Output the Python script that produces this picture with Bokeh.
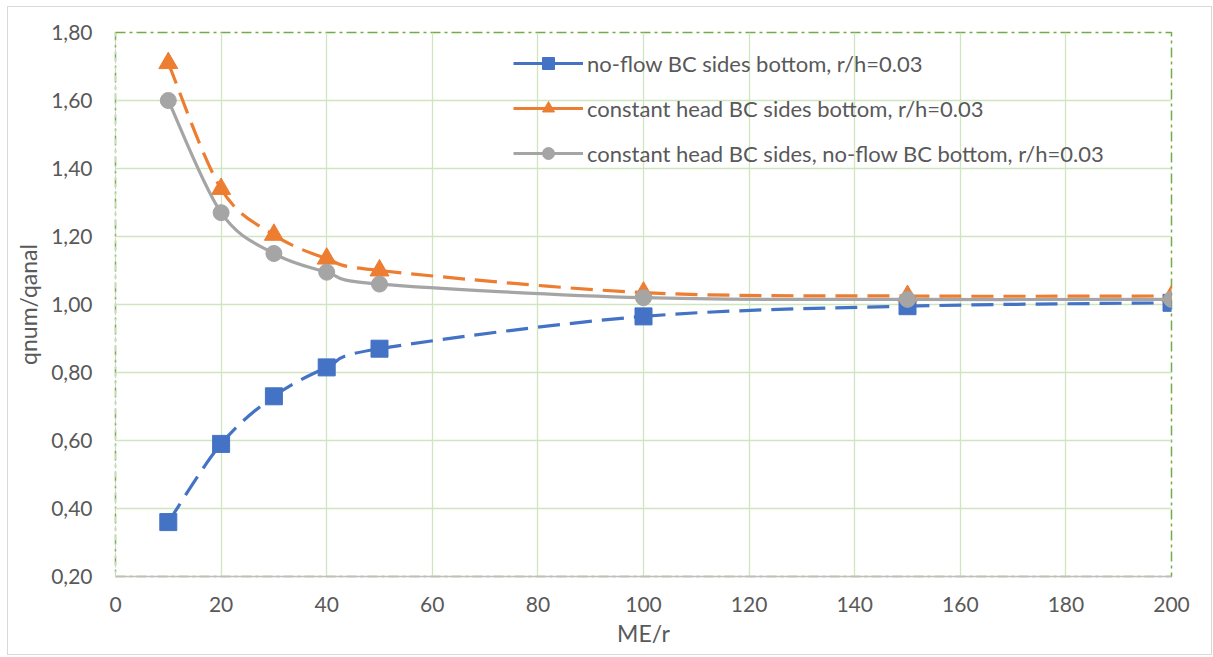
import numpy as np
from bokeh.plotting import figure
from bokeh.models import FixedTicker, CustomJSTickFormatter, Legend, LegendItem, ColumnDataSource
from bokeh.embed import file_html
from bokeh.resources import INLINE

# ---- data ----
me_r = [10, 20, 30, 40, 50, 100, 150, 200]
no_flow = [0.36, 0.59, 0.73, 0.815, 0.87, 0.965, 0.995, 1.005]
const_head = [1.71, 1.34, 1.205, 1.135, 1.10, 1.035, 1.025, 1.025]
const_head_noflow = [1.60, 1.27, 1.15, 1.095, 1.06, 1.02, 1.015, 1.015]
labels = ["no-flow BC sides bottom, r/h=0.03",
          "constant head BC sides bottom, r/h=0.03",
          "constant head BC sides, no-flow BC bottom, r/h=0.03"]
x_ticks = list(range(0, 201, 20))
y_ticks = [0.2, 0.4, 0.6, 0.8, 1.0, 1.2, 1.4, 1.6, 1.8]

FONT = "Lato"
TXT = "#595959"
GRID = "#cfe5bf"

p = figure(width=1205, height=649, output_backend="svg", toolbar_location=None,
           x_range=(0, 200), y_range=(0.2, 1.8),
           min_border_left=107, min_border_right=42, min_border_top=25, min_border_bottom=80)
p.styles = {"border": "1px solid #d9d9d9", "margin-left": "7px", "margin-top": "6px"}
p.outline_line_color = "#70ad47"
p.outline_line_dash = "10 4 3 4"
p.outline_line_width = 1.5

p.xaxis.ticker = FixedTicker(ticks=x_ticks)
p.yaxis.ticker = FixedTicker(ticks=y_ticks)
p.yaxis.formatter = CustomJSTickFormatter(code="return tick.toFixed(2).replace('.', ',');")
for ax in (p.xaxis, p.yaxis):
    ax.major_label_text_font = FONT
    ax.major_label_text_font_size = "21px"
    ax.major_label_text_color = TXT
    ax.axis_label_text_font = FONT
    ax.axis_label_text_font_size = "23px"
    ax.axis_label_text_color = TXT
    ax.axis_label_text_font_style = "normal"
    ax.major_tick_line_color = None
    ax.minor_tick_line_color = None
p.xaxis.axis_label = "ME/r"
p.yaxis.axis_label = "qnum/qanal"
p.xaxis.axis_line_color = "#bfbfbf"
p.xaxis.axis_line_width = 1.5
p.yaxis.axis_line_color = "#c9d9c0"
p.yaxis.axis_line_dash = "6 3"
p.xaxis.major_label_standoff = 14
p.yaxis.major_label_standoff = 17
p.xaxis.axis_label_standoff = 4
p.yaxis.axis_label_standoff = 6
p.xgrid.grid_line_color = GRID
p.ygrid.grid_line_color = GRID
p.xgrid.grid_line_width = 1.3
p.ygrid.grid_line_width = 1.3


def smooth_segments(xs, ys):
    xs = np.asarray(xs, float)
    ys = np.asarray(ys, float)
    n = len(xs)
    xp = np.concatenate([[xs[0]], xs, [xs[-1]]])
    yp = np.concatenate([[ys[0]], ys, [ys[-1]]])
    t = 1.0 / 6.0
    d = dict(x0=[], y0=[], x1=[], y1=[], cx0=[], cy0=[], cx1=[], cy1=[])
    for i in range(n - 1):
        j = i + 1
        d["x0"].append(xs[i]); d["y0"].append(ys[i])
        d["x1"].append(xs[i + 1]); d["y1"].append(ys[i + 1])
        d["cx0"].append(xs[i] + (xp[j + 1] - xp[j - 1]) * t)
        d["cy0"].append(ys[i] + (yp[j + 1] - yp[j - 1]) * t)
        d["cx1"].append(xs[i + 1] - (xp[j + 2] - xp[j]) * t)
        d["cy1"].append(ys[i + 1] - (yp[j + 2] - yp[j]) * t)
    return ColumnDataSource(d)


series = [
    (no_flow, "#4472c4", "22 10", "square", 17),
    (const_head, "#ed7d31", "22 10", "triangle", 19),
    (const_head_noflow, "#a5a5a5", "solid", "circle", 16),
]
items = []
for (ys, color, dash, marker, size), lab in zip(series, labels):
    src = smooth_segments(me_r, ys)
    p.bezier(x0="x0", y0="y0", x1="x1", y1="y1", cx0="cx0", cy0="cy0", cx1="cx1", cy1="cy1",
             source=src, line_color=color, line_width=3.2, line_dash=dash)
    sc = p.scatter(me_r, ys, marker=marker, size=size, fill_color=color, line_color=color)
    lg = p.line([np.nan], [np.nan], line_color=color, line_width=3.2)
    items.append(LegendItem(label=lab, renderers=[lg, sc]))

legend = Legend(items=items, location=(398, 408), label_text_font=FONT,
                label_text_font_size="22px", label_text_color=TXT,
                glyph_width=70, glyph_height=30, label_height=30, spacing=15,
                label_standoff=4, padding=0, margin=0,
                background_fill_alpha=0, border_line_color=None)
p.add_layout(legend)

open("out.html", "w").write(file_html(p, INLINE))
